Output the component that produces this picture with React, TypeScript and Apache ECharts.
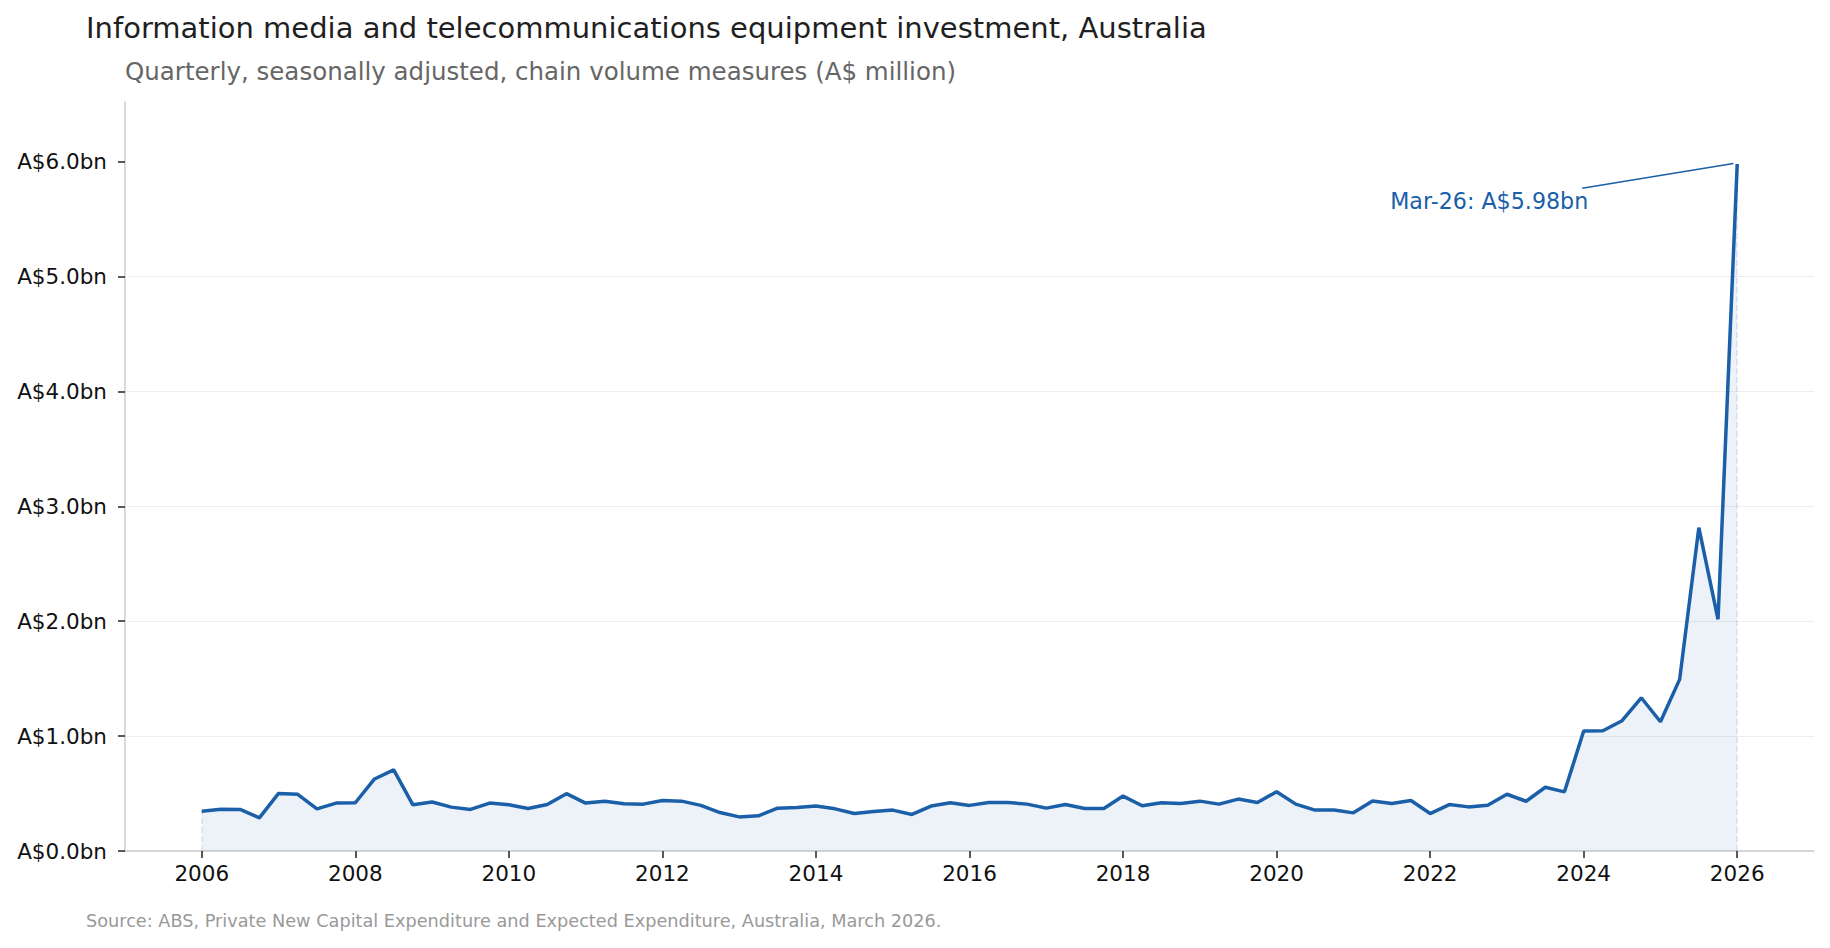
import React, { useEffect, useRef } from 'react';
import * as echarts from 'echarts';

// Quarterly values, A$ billion, Mar-06 .. Mar-26
const firstQuarter = 2006;
const investment = [
  0.347, 0.364, 0.362, 0.289,
  0.501, 0.493, 0.367, 0.417,
  0.42, 0.627, 0.706, 0.402,
  0.426, 0.382, 0.362, 0.417,
  0.402, 0.37, 0.405, 0.499,
  0.417, 0.434, 0.411, 0.408,
  0.44, 0.434, 0.397, 0.335,
  0.297, 0.306, 0.373, 0.379,
  0.391, 0.367, 0.327, 0.344,
  0.356, 0.318, 0.391, 0.42,
  0.397, 0.423, 0.423, 0.408,
  0.373, 0.405, 0.37, 0.37,
  0.478, 0.394, 0.42, 0.414,
  0.434, 0.408, 0.452, 0.423,
  0.516, 0.408, 0.356, 0.356,
  0.332, 0.435, 0.413, 0.439,
  0.326, 0.404, 0.384, 0.398,
  0.494, 0.433, 0.555, 0.515,
  1.044, 1.047, 1.134, 1.334,
  1.125, 1.494, 2.815, 2.017,
  5.98,
];
const lastLabel = 'Mar-26';

const xTicks = [2006, 2008, 2010, 2012, 2014, 2016, 2018, 2020, 2022, 2024, 2026];
const yTicks = [0, 1, 2, 3, 4, 5, 6];

const BLUE = '#1a5fa8';
const FONT = 'DejaVu Sans';

const App: React.FC = () => {
  const chartRef = useRef<HTMLDivElement>(null);

  useEffect(() => {
    if (!chartRef.current) return;
    const chart = echarts.init(chartRef.current, undefined, { renderer: 'svg' });

    const points = investment.map((v, i) => [firstQuarter + i / 4, v]);
    const first = points[0];
    const last = points[points.length - 1];

    chart.setOption({
      animation: false,
      textStyle: { fontFamily: FONT },
      title: [
        {
          text: 'Information media and telecommunications equipment investment, Australia',
          left: 86,
          top: 13,
          padding: 0,
          textStyle: { fontSize: 29, fontWeight: 'normal', color: '#1f1f1f', fontFamily: FONT },
        },
        {
          text: 'Quarterly, seasonally adjusted, chain volume measures (A$ million)',
          left: 125,
          top: 59,
          padding: 0,
          textStyle: { fontSize: 24.5, fontWeight: 'normal', color: '#666666', fontFamily: FONT },
        },
        {
          text: 'Source: ABS, Private New Capital Expenditure and Expected Expenditure, Australia, March 2026.',
          left: 86,
          top: 912,
          padding: 0,
          textStyle: { fontSize: 17.7, fontWeight: 'normal', color: '#999999', fontFamily: FONT },
        },
      ],
      grid: {
        left: 125,
        right: 16,
        top: 102,
        bottom: 97,
        containLabel: false,
        outerBoundsMode: 'none',
      },
      xAxis: {
        type: 'value',
        min: 2005,
        max: 2027,
        axisLine: { show: true, lineStyle: { color: '#cccccc', width: 1.5 } },
        axisTick: {
          show: true,
          customValues: xTicks,
          length: 7,
          lineStyle: { color: '#222222', width: 1.5 },
        },
        axisLabel: {
          customValues: xTicks,
          formatter: (v: number) => String(v),
          fontSize: 21.5,
          color: '#111111',
          margin: 11,
          fontFamily: FONT,
        },
        splitLine: { show: false },
      },
      yAxis: {
        type: 'value',
        min: 0,
        max: 6.52,
        interval: 1,
        axisLine: { show: true, lineStyle: { color: '#cccccc', width: 1.5 } },
        axisTick: {
          show: true,
          customValues: yTicks,
          length: 7,
          lineStyle: { color: '#222222', width: 1.5 },
        },
        axisLabel: {
          customValues: yTicks,
          formatter: (v: number) => `A$${v.toFixed(1)}bn`,
          fontSize: 21.5,
          color: '#111111',
          margin: 18,
          fontFamily: FONT,
        },
        splitLine: {
          show: true,
          showMaxLine: false,
          lineStyle: { color: '#eeeeee', width: 1 },
        },
      },
      series: [
        {
          type: 'line',
          data: points,
          showSymbol: false,
          symbol: 'none',
          lineStyle: { color: BLUE, width: 3.5 },
          itemStyle: { color: BLUE },
          areaStyle: { color: 'rgba(26,95,168,0.11)' },
          z: 3,
          markLine: {
            silent: true,
            symbol: 'none',
            label: { show: false },
            data: [
              [
                { coord: [first[0], 0], lineStyle: { color: 'rgba(26,95,168,0.14)', width: 1.5 } },
                { coord: [first[0], first[1]] },
              ],
              [
                { coord: [last[0], 0], lineStyle: { color: 'rgba(26,95,168,0.14)', width: 1.5 } },
                { coord: [last[0], last[1]] },
              ],
              [
                { coord: [2023.98, 5.77], lineStyle: { color: BLUE, width: 1.5, type: 'solid' } },
                { coord: [2025.95, 5.985] },
              ],
            ],
          },
          markPoint: {
            silent: true,
            symbol: 'circle',
            symbolSize: 0,
            data: [
              {
                coord: [2022.77, 5.66],
                label: {
                  show: true,
                  position: 'inside',
                  formatter: `${lastLabel}: A$${last[1].toFixed(2)}bn`,
                  color: BLUE,
                  fontSize: 22.2,
                  fontFamily: FONT,
                },
              },
            ],
          },
        },
      ],
    });

    return () => {
      chart.dispose();
    };
  }, []);

  return (
    <div
      ref={chartRef}
      style={{ position: 'fixed', left: 0, top: 0, width: '1830px', height: '948px', background: '#ffffff' }}
    />
  );
};

export default App;
